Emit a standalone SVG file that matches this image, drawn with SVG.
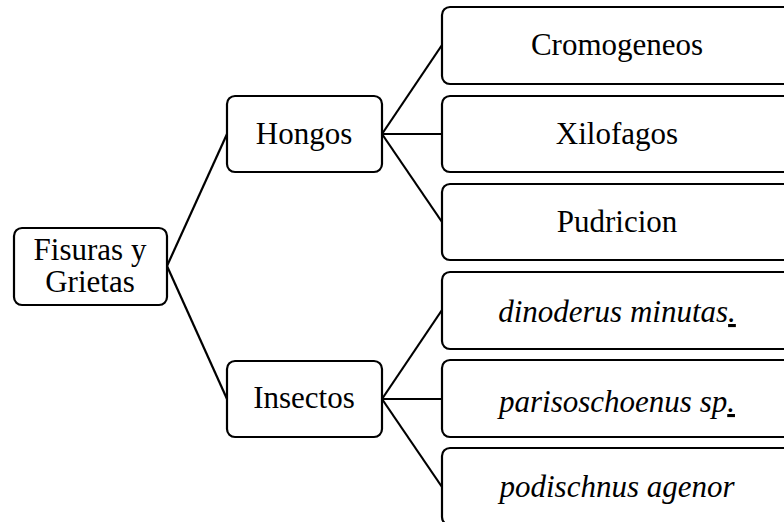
<svg xmlns="http://www.w3.org/2000/svg" width="784" height="522" viewBox="0 0 784 522">
<style>
rect{fill:#fff;stroke:#000;stroke-width:2.2}
text{font-family:"Liberation Serif","Times New Roman",serif;font-size:31px;fill:#000;text-anchor:middle}
.i{font-style:italic}
#connectors line{stroke:#000;stroke-width:2.2}
</style>
<rect x="0" y="0" width="784" height="522" style="fill:#fff;stroke:none"/>
<g id="connectors">
<line x1="167" y1="266" x2="227" y2="134"/>
<line x1="167" y1="266" x2="227" y2="399"/>
<line x1="382" y1="134" x2="442" y2="45"/>
<line x1="382" y1="134" x2="442" y2="134"/>
<line x1="382" y1="134" x2="442" y2="222"/>
<line x1="382" y1="399" x2="442" y2="310"/>
<line x1="382" y1="399" x2="442" y2="399"/>
<line x1="382" y1="399" x2="442" y2="487"/>
</g>
<g id="fisuras"><rect x="14" y="228" width="153" height="77" rx="8"/><text x="90" y="260">Fisuras y</text><text x="90" y="292">Grietas</text></g>
<g id="hongos"><rect x="227" y="96" width="155" height="76" rx="8"/><text x="304" y="144">Hongos</text></g>
<g id="insectos"><rect x="227" y="361" width="155" height="76" rx="8"/><text x="304" y="408">Insectos</text></g>
<g id="cromogeneos"><rect x="442" y="7" width="350" height="77" rx="8"/><text x="617" y="55">Cromogeneos</text></g>
<g id="xilofagos"><rect x="442" y="96" width="350" height="76" rx="8"/><text x="617" y="144">Xilofagos</text></g>
<g id="pudricion"><rect x="442" y="184" width="350" height="76" rx="8"/><text x="617" y="232">Pudricion</text></g>
<g id="dinoderus"><rect x="442" y="272" width="350" height="77" rx="8"/><text class="i" x="617" y="322">dinoderus minutas<tspan text-decoration="underline">.</tspan></text></g>
<g id="parisoschoenus"><rect x="442" y="360" width="350" height="77" rx="8"/><text class="i" x="617" y="412">parisoschoenus sp<tspan text-decoration="underline">.</tspan></text></g>
<g id="podischnus"><rect x="442" y="448" width="350" height="77" rx="8"/><text class="i" x="617" y="497">podischnus agenor</text></g>
</svg>
